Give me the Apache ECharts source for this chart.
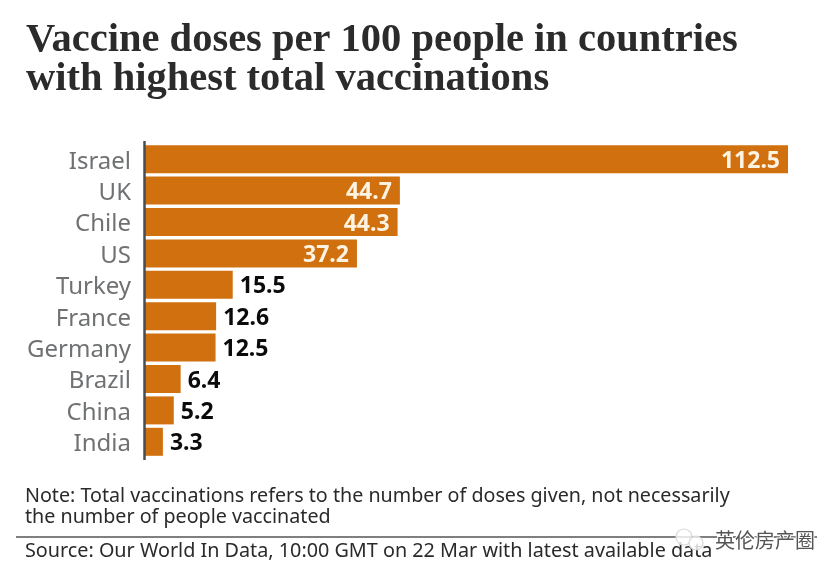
<!DOCTYPE html>
<html>
<head>
<meta charset="utf-8">
<title>Vaccine doses</title>
<script src="https://cdn.jsdelivr.net/npm/echarts@6/dist/echarts.min.js"></script>
<style>
html, body { margin: 0; padding: 0; background: #fff; }
#chart { width: 839px; height: 578px; }
</style>
</head>
<body>
<div id="chart"></div>
<script>
var countries = ['Israel', 'UK', 'Chile', 'US', 'Turkey', 'France', 'Germany', 'Brazil', 'China', 'India'];
var doses = [112.5, 44.7, 44.3, 37.2, 15.5, 12.6, 12.5, 6.4, 5.2, 3.3];
var titleLines = ['Vaccine doses per 100 people in countries', 'with highest total vaccinations'];
var noteLines = ['Note: Total vaccinations refers to the number of doses given, not necessarily', 'the number of people vaccinated'];
var sourceText = 'Source: Our World In Data, 10:00 GMT on 22 Mar with latest available data';
var watermark = '英伦房产圈';

var chart = echarts.init(document.getElementById('chart'));

// 大的柱子标签放里面，小的放外面
var barData = doses.map(function (v) {
    var big = v > 30;
    return {
        value: v,
        label: {
            position: big ? 'insideRight' : 'right',
            distance: big ? 8 : 7,
            offset: [0, 2],
            color: big ? '#fdf3e3' : '#0b0b0b'
        }
    };
});

var option = {
    backgroundColor: '#ffffff',
    animation: false,
    title: {
        text: titleLines.join('\n'),
        left: 21,
        top: 16,
        textStyle: {
            fontFamily: 'Liberation Serif',
            fontSize: 40.5,
            fontWeight: 'bold',
            lineHeight: 39,
            color: '#2b2b2b'
        }
    },
    grid: { left: 144, top: 143.5, width: 644, height: 314 },
    xAxis: { type: 'value', min: 0, max: 112.5, show: false },
    yAxis: {
        type: 'category',
        inverse: true,
        data: countries,
        axisLine: { show: false },
        axisTick: { show: false },
        axisLabel: {
            margin: 13,
            formatter: '{name|{value}}',
            rich: {
                name: {
                    padding: [5, 0, 0, 0],
                    fontFamily: 'Noto Sans',
                    fontSize: 24,
                    color: '#6f7173'
                }
            }
        }
    },
    series: [{
        type: 'bar',
        data: barData,
        barWidth: 28,
        itemStyle: { color: '#d1700f' },
        label: {
            show: true,
            fontFamily: 'Noto Sans',
            fontSize: 23,
            fontWeight: 'bold',
            formatter: function (p) { return p.value.toFixed(1); }
        }
    }],
    graphic: [
        { type: 'line', z: 10, shape: { x1: 144.5, y1: 141, x2: 144.5, y2: 460 }, style: { stroke: '#4a4d50', lineWidth: 2.5 } },
        { type: 'text', left: 25, top: 486, style: { text: noteLines.join('\n'), fontFamily: 'Noto Sans', fontSize: 19.7, lineHeight: 21, fill: '#2a2a2a' } },
        { type: 'line', shape: { x1: 16, y1: 537, x2: 817, y2: 537 }, style: { stroke: '#555555', lineWidth: 1.5 } },
        { type: 'text', left: 25, top: 540, style: { text: sourceText, fontFamily: 'Noto Sans', fontSize: 19.8, lineHeight: 22, fill: '#2a2a2a' } },
        { type: 'circle', z: 11, shape: { cx: 684, cy: 537, r: 8 }, style: { fill: 'rgba(255,255,255,0.8)', stroke: '#d5d7da', lineWidth: 1.2 } },
        { type: 'circle', z: 11, shape: { cx: 696, cy: 543, r: 7 }, style: { fill: 'rgba(255,255,255,0.8)', stroke: '#d5d7da', lineWidth: 1.2 } },
        { type: 'text', z: 11, left: 714, top: 529, style: { text: watermark, fontFamily: 'Noto Sans CJK SC', fontSize: 20, fill: '#555555', stroke: '#ffffff', lineWidth: 2 } }
    ]
};

chart.setOption(option);
</script>
</body>
</html>
